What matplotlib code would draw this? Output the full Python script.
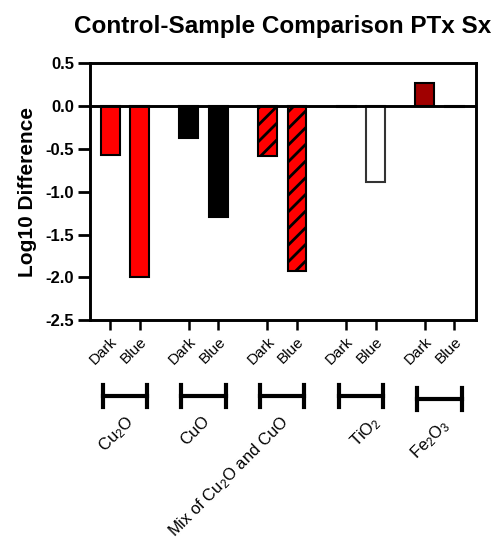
import matplotlib
matplotlib.use("Agg")
import matplotlib.pyplot as plt
import numpy as np

plt.rcParams.update({"font.family": ["Liberation Sans", "DejaVu Sans"],
                     "mathtext.fontset": "custom",
                     "mathtext.rm": "Liberation Sans",
                     "mathtext.it": "Liberation Sans",
                     "hatch.linewidth": 2.0})

groups = [r"Cu$_2$O", "CuO", r"Mix of Cu$_2$O and CuO", r"TiO$_2$", r"Fe$_2$O$_3$"]
conditions = ["Dark", "Blue"]
dark_vals = [-0.57, -0.37, -0.58, -0.01, 0.27]
blue_vals = [-2.00, -1.29, -1.93, -0.89, -0.01]
dark_colors = ["#ff0000", "#000000", "#ff0000", "#ffffff", "#a00000"]
blue_colors = ["#ff0000", "#000000", "#ff0000", "#ffffff", "#ffffff"]
hatches = [None, None, "//", None, None]

GAP = 2.67  # group pitch in bar units
x_dark = np.arange(len(groups)) * GAP
x_blue = x_dark + 1
# small per-group nudges of the rotated group labels, as in the original layout
label_dx = [0.01, -0.06, -0.09, 0.35, 0.04]

fig = plt.figure(figsize=(5.03, 5.40), dpi=100)
ax = fig.add_axes([0.179, 0.407, 0.767, 0.476])

for i in range(len(groups)):
    for xx, v, c in [(x_dark[i], dark_vals[i], dark_colors[i]), (x_blue[i], blue_vals[i], blue_colors[i])]:
        ax.bar(xx, v, width=0.64, color=c, edgecolor="black" if c != "#ffffff" else "#333333",
               linewidth=1.5, hatch=hatches[i], zorder=2)

ax.axhline(0, color="black", lw=2.1, zorder=3)
ax.set_xlim(-0.68, 12.41)
ax.set_ylim(-2.5, 0.5)
yt = np.arange(-2.5, 0.51, 0.5)
ax.set_yticks(yt)
ax.set_yticklabels([f"{v:.1f}" for v in yt], fontsize=12, fontweight="bold")
ax.set_ylabel("Log10 Difference", fontsize=15, fontweight="bold", labelpad=6)
ax.set_title("Control-Sample Comparison PTx Sx", fontsize=17.5, fontweight="bold", pad=22)

xt = np.ravel(np.column_stack([x_dark, x_blue]))
ax.set_xticks(xt)
ax.set_xticklabels(conditions * len(groups), rotation=45, ha="right",
                   rotation_mode="anchor", fontsize=11)
for s in ax.spines.values():
    s.set_linewidth(2.1)
ax.tick_params(axis="y", length=8.5, width=2, pad=3)
ax.tick_params(axis="x", length=7, width=1.8, pad=3)

trans = ax.get_xaxis_transform()
for i, g in enumerate(groups):
    c = x_dark[i] + 0.5
    yb = -0.296 if i < 4 else -0.307
    ax.plot([c - 0.75, c + 0.75], [yb, yb], color="black", lw=3, transform=trans, clip_on=False)
    for e in (c - 0.75, c + 0.75):
        ax.plot([e, e], [yb - 0.043, yb + 0.043], color="black", lw=3, transform=trans, clip_on=False)
    ax.text(c + label_dx[i], yb - 0.065, g, transform=trans, rotation=45, ha="right", va="top",
            rotation_mode="anchor", fontsize=12)

fig.savefig("out.png", dpi=100)
